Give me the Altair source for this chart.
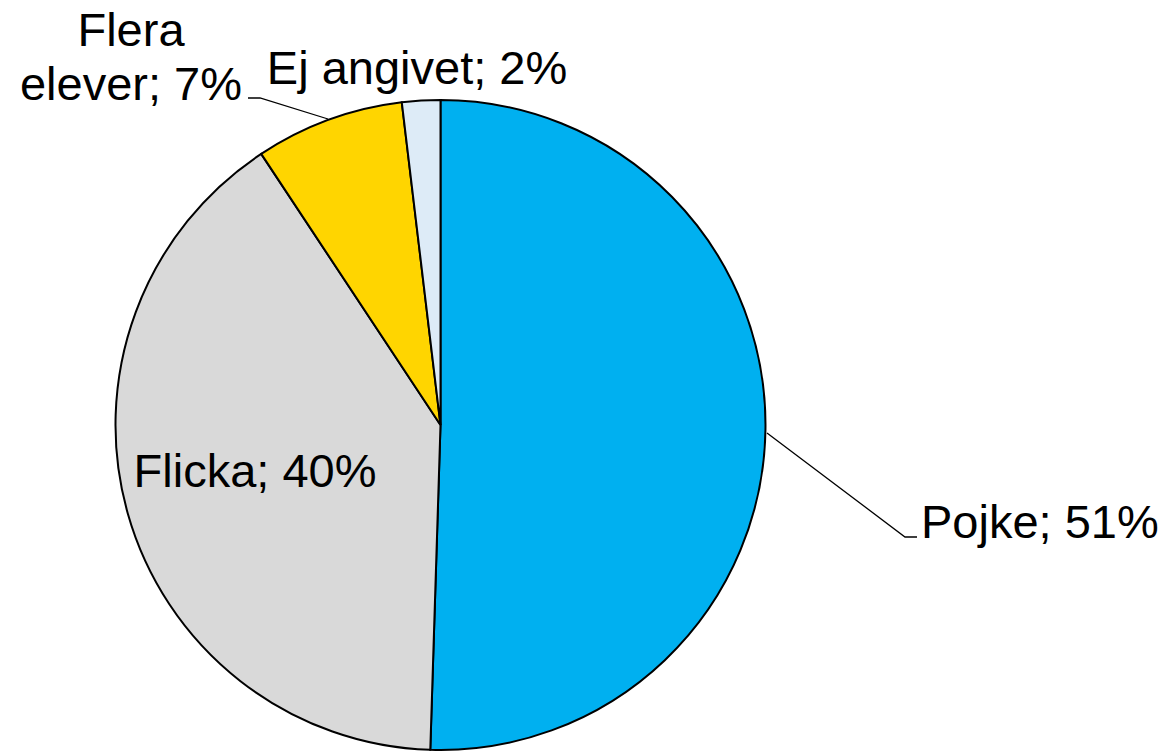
import altair as alt
import pandas as pd

# Data
categories = ["Pojke", "Flicka", "Flera elever", "Ej angivet"]
shares = [50.5, 40.2, 7.4, 1.9]          # slice sizes estimated from the angles
label_pct = ["51%", "40%", "7%", "2%"]    # labels as printed
colors = ["#00B0F0", "#D9D9D9", "#FFD500", "#DDEBF7"]

pie_df = pd.DataFrame({
    "kategori": categories,
    "andel": shares,
    "idx": list(range(len(categories))),
})

# Label placement (chart pixel coordinates, annotation only)
FONT = "Liberation Sans"
FS = 47
OFF = 8  # page margin
labels = pd.DataFrame([
    {"t": f"{categories[0]}; {label_pct[0]}", "x": 921 - OFF, "y": 538 - OFF, "a": "left"},
    {"t": f"{categories[1]}; {label_pct[1]}", "x": 255 - OFF, "y": 487 - OFF, "a": "center"},
    {"t": "Flera", "x": 131 - OFF, "y": 46 - OFF, "a": "center"},
    {"t": f"elever; {label_pct[2]}", "x": 131 - OFF, "y": 100 - OFF, "a": "center"},
    {"t": f"{categories[3]}; {label_pct[3]}", "x": 417 - OFF, "y": 84 - OFF, "a": "center"},
])

leaders = pd.DataFrame([
    {"g": "p", "o": 0, "x": 767 - OFF, "y": 433 - OFF},
    {"g": "p", "o": 1, "x": 905 - OFF, "y": 537 - OFF},
    {"g": "p", "o": 2, "x": 917 - OFF, "y": 537 - OFF},
    {"g": "f", "o": 0, "x": 328 - OFF, "y": 119 - OFF},
    {"g": "f", "o": 1, "x": 260 - OFF, "y": 98 - OFF},
    {"g": "f", "o": 2, "x": 248 - OFF, "y": 98 - OFF},
])

pie = alt.Chart(pie_df).mark_arc(
    radius=325, stroke="black", strokeWidth=2
).encode(
    theta=alt.Theta("andel:Q", stack=True),
    order=alt.Order("idx:Q"),
    color=alt.Color("kategori:N", scale=alt.Scale(domain=categories, range=colors), legend=None),
    x=alt.value(440.5 - OFF),
    y=alt.value(425 - OFF),
)

lines = alt.Chart(leaders).mark_line(color="black", strokeWidth=1.3).encode(
    x=alt.X("x:Q", scale=None),
    y=alt.Y("y:Q", scale=None),
    detail="g:N",
    order="o:Q",
)

left_labels = alt.Chart(labels[labels["a"] == "left"]).mark_text(
    font=FONT, fontSize=FS, align="left", baseline="alphabetic", color="black"
).encode(x=alt.X("x:Q", scale=None), y=alt.Y("y:Q", scale=None), text="t:N")

center_labels = alt.Chart(labels[labels["a"] == "center"]).mark_text(
    font=FONT, fontSize=FS, align="center", baseline="alphabetic", color="black"
).encode(x=alt.X("x:Q", scale=None), y=alt.Y("y:Q", scale=None), text="t:N")

chart = alt.layer(pie, lines, left_labels, center_labels).properties(
    width=1155, height=750, padding=0, autosize=alt.AutoSizeParams(type="none")
).configure_view(stroke=None).configure_axis(disable=True)

chart.save("out.html", embed_options={"renderer": "svg", "actions": False})
